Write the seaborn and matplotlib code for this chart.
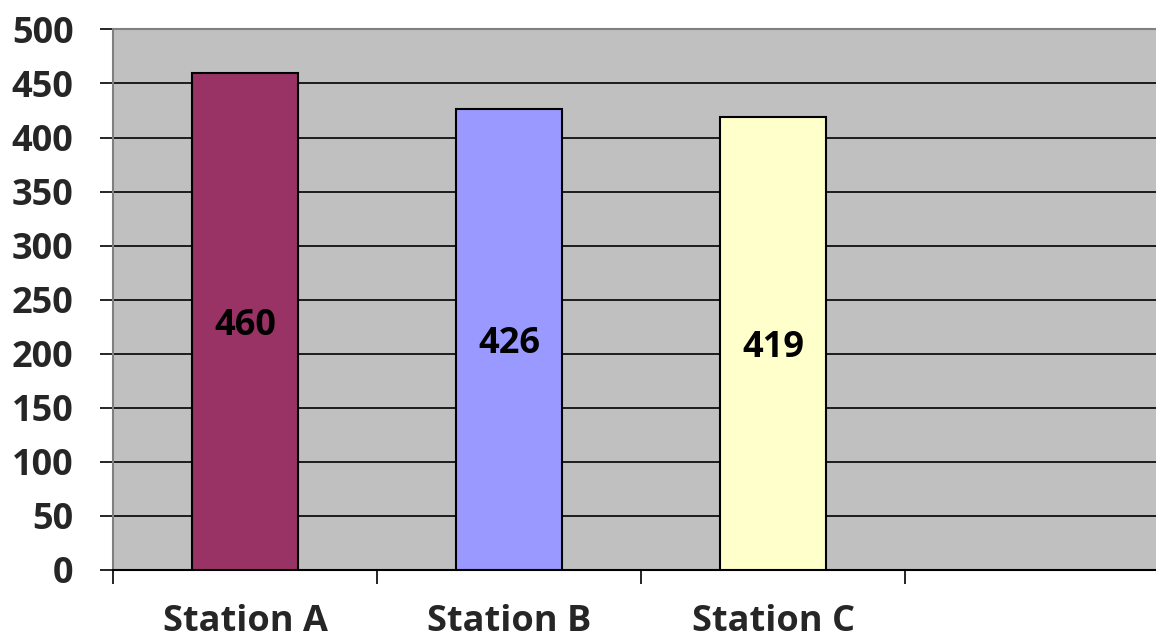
import matplotlib
matplotlib.use("Agg")
import matplotlib.pyplot as plt
from matplotlib.ticker import FixedLocator, MultipleLocator
import seaborn as sns
import pandas as pd

stations = ["Station A", "Station B", "Station C"]
counts = [460, 426, 419]
bar_colors = ["#993366", "#9999FF", "#FFFFCC"]

sns.set_theme(style="white")
plt.rcParams["font.family"] = ["Open Sans", "DejaVu Sans"]
plt.rcParams["font.weight"] = "bold"

FS = 26

df = pd.DataFrame({"station": stations, "count": counts})

fig = plt.figure(figsize=(11.56, 6.39), dpi=100)
ax = fig.add_axes([0.0978, 0.108, 0.9135, 0.846])
ax.set_facecolor("#C0C0C0")

sns.barplot(data=df, x="station", y="count", hue="station",
            palette=dict(zip(stations, bar_colors)), width=0.4, saturation=1,
            edgecolor="black", linewidth=1.5, legend=False, ax=ax, zorder=3)

for cont in ax.containers:
    texts = ax.bar_label(cont, label_type="center", fontsize=FS,
                         fontweight="bold", color="black")
    for t in texts:
        t.set_va("center_baseline")

ax.set_xlim(-0.5, 3.5)
ax.set_ylim(0, 500)
ax.yaxis.set_major_locator(MultipleLocator(50))
ax.grid(axis="y", color="black", linewidth=1.2, zorder=1)
ax.set_axisbelow(True)

# category boundaries carry the tick marks, centres carry the names
ax.xaxis.set_major_locator(FixedLocator([-0.5, 0.5, 1.5, 2.5]))
ax.xaxis.set_minor_locator(FixedLocator([0, 1, 2]))
ax.set_xticklabels([], minor=False)
ax.set_xticklabels(stations, minor=True)
ax.tick_params(axis="x", which="major", length=10, width=1.2, color="black",
               direction="out", bottom=True)
ax.tick_params(axis="x", which="minor", length=0, pad=24.5, labelsize=FS)
ax.tick_params(axis="y", length=9.5, width=1.2, color="black", direction="out",
               left=True, pad=19, labelsize=FS)
for lbl in ax.get_xticklabels(minor=True) + ax.get_yticklabels():
    lbl.set_fontweight("bold")

ax.set_xlabel("")
ax.set_ylabel("")
ax.spines["left"].set_color("#808080")
ax.spines["left"].set_linewidth(1.5)
ax.spines["top"].set_color("#808080")
ax.spines["top"].set_linewidth(1.5)
ax.spines["bottom"].set_color("black")
ax.spines["bottom"].set_linewidth(1.5)
ax.spines["right"].set_visible(False)

fig.savefig("out.png", dpi=100)
